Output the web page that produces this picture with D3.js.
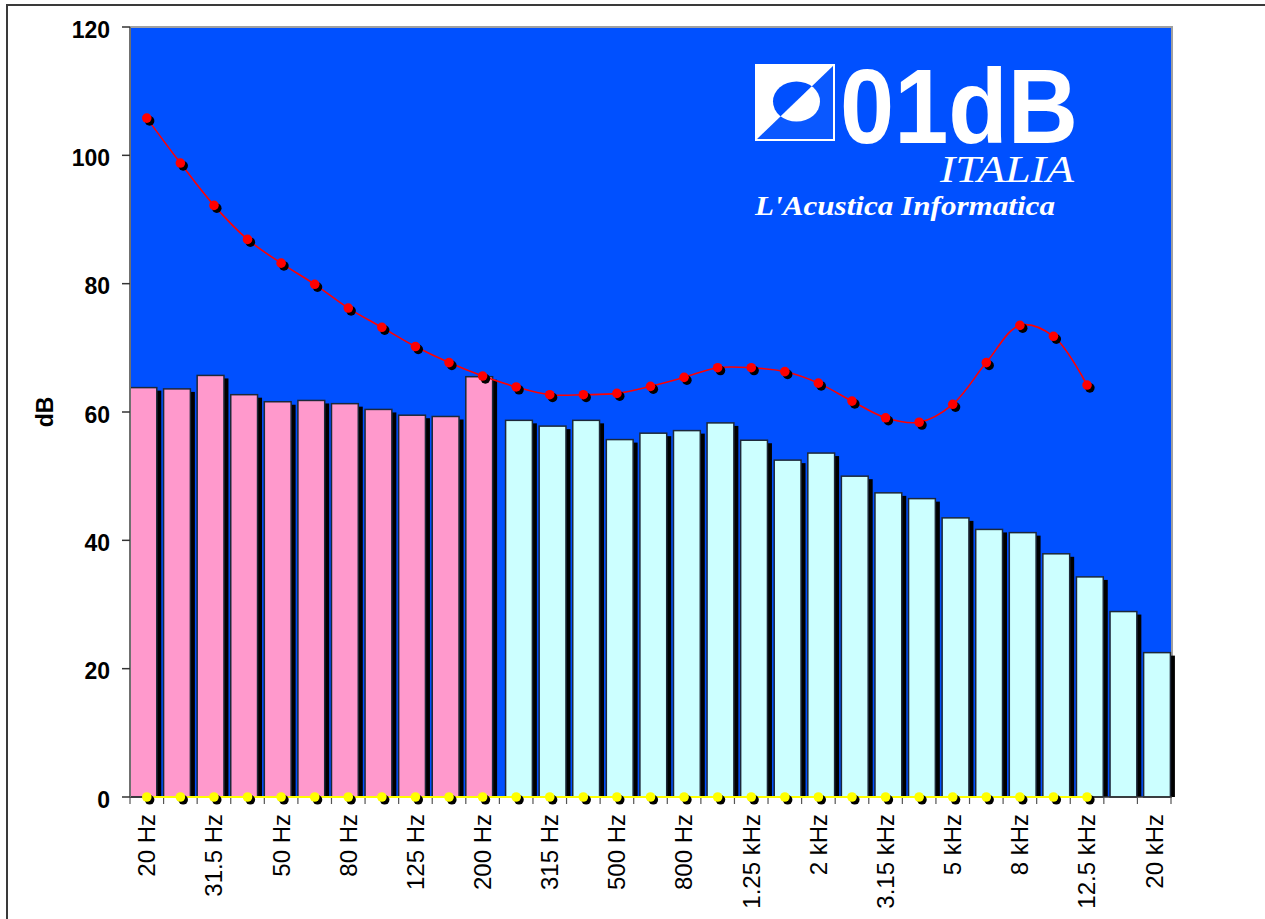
<!DOCTYPE html>
<html>
<head>
<meta charset="utf-8">
<script src="https://cdn.jsdelivr.net/npm/d3@7"></script>
<style>
  body { margin: 0; background: #fff; }
  svg { display: block; }
</style>
</head>
<body>
<script>
// third-octave bands
const bands = ["20 Hz","25 Hz","31.5 Hz","40 Hz","50 Hz","63 Hz","80 Hz","100 Hz","125 Hz","160 Hz",
  "200 Hz","250 Hz","315 Hz","400 Hz","500 Hz","630 Hz","800 Hz","1 kHz","1.25 kHz","1.6 kHz",
  "2 kHz","2.5 kHz","3.15 kHz","4 kHz","5 kHz","6.3 kHz","8 kHz","10 kHz","12.5 kHz","16 kHz","20 kHz"]

// pink series (low bands) and cyan series (the rest)
const lowLevels = [63.8, 63.6, 65.7, 62.7, 61.6, 61.8, 61.3, 60.4, 59.5, 59.3, 65.5]
const highLevels = [58.7, 57.8, 58.7, 55.7, 56.7, 57.1, 58.3, 55.6, 52.5, 53.6,
  50.0, 47.4, 46.5, 43.5, 41.7, 41.2, 37.9, 34.3, 28.9, 22.5]

// red curve (20 Hz .. 12.5 kHz)
const curveLevels = [105.8, 98.8, 92.2, 86.9, 83.2, 79.9, 76.2, 73.2, 70.2, 67.7,
  65.6, 63.9, 62.7, 62.7, 62.9, 64.0, 65.4, 66.9, 66.9, 66.3,
  64.5, 61.7, 59.1, 58.4, 61.2, 67.7, 73.5, 71.8, 64.2]
// yellow series, all zero
const zeroLevels = [0,0,0,0,0,0,0,0,0,0,0,0,0,0,0,0,0,0,0,0,0,0,0,0,0,0,0,0,0]

const yTicks = [0, 20, 40, 60, 80, 100, 120]

const W = 1265, H = 919
const plotL = 130, plotR = 1172, plotT = 27, plotB = 797

let svg = d3.select("body").append("svg")
    .attr("width", W)
    .attr("height", H)
    .style("font-family", "'Liberation Sans', Arial, sans-serif")

// outer frame
svg.append("rect")
    .attr("x", 7).attr("y", 5)
    .attr("width", 1400).attr("height", 1100)
    .attr("fill", "#fff")
    .attr("stroke", "#3a3a3a")
    .attr("stroke-width", 2)

let x = d3.scaleBand()
    .domain(bands)
    .range([plotL, plotR - 1])

let y = d3.scaleLinear()
    .domain([0, 120])
    .range([plotB, plotT])

// plot background
svg.append("rect")
    .attr("x", plotL).attr("y", plotT)
    .attr("width", plotR - plotL).attr("height", plotB - plotT)
    .attr("fill", "#0050ff")
svg.append("path")
    .attr("d", `M${plotL},${plotT}H${plotR}V${plotB}`)
    .attr("fill", "none")
    .attr("stroke", "#a0a0a0")
    .attr("stroke-width", 2)

// logo
let logo = svg.append("g")
let defs = svg.append("defs")
defs.append("clipPath").attr("id", "ul")
    .append("polygon").attr("points", "756,65 834,65 756,140")
defs.append("clipPath").attr("id", "lr")
    .append("polygon").attr("points", "834,65 834,140 756,140")
logo.append("rect")
    .attr("x", 756).attr("y", 65).attr("width", 78).attr("height", 75)
    .attr("fill", "#0a58ff").attr("stroke", "#fff").attr("stroke-width", 2)
logo.append("polygon")
    .attr("points", "756,65 834,65 756,140")
    .attr("fill", "#fff")
logo.append("ellipse")
    .attr("cx", 796.5).attr("cy", 101.5).attr("rx", 23.5).attr("ry", 20)
    .attr("fill", "#0050ff").attr("clip-path", "url(#ul)")
logo.append("ellipse")
    .attr("cx", 796.5).attr("cy", 101.5).attr("rx", 23.5).attr("ry", 20)
    .attr("fill", "#fff").attr("clip-path", "url(#lr)")
logo.append("text")
    .attr("x", 840).attr("y", 143)
    .attr("font-size", 106).attr("font-weight", "bold")
    .attr("textLength", 238).attr("lengthAdjust", "spacingAndGlyphs")
    .attr("fill", "#fff")
    .text("01dB")
logo.append("text")
    .attr("x", 940).attr("y", 182)
    .attr("font-family", "'Liberation Serif', 'Times New Roman', serif")
    .attr("font-style", "italic").attr("font-size", 37)
    .attr("textLength", 134).attr("lengthAdjust", "spacingAndGlyphs")
    .attr("fill", "#fff")
    .text("ITALIA")
logo.append("text")
    .attr("x", 755).attr("y", 215)
    .attr("font-family", "'Liberation Serif', 'Times New Roman', serif")
    .attr("font-style", "italic").attr("font-weight", "bold").attr("font-size", 28)
    .attr("textLength", 300).attr("lengthAdjust", "spacingAndGlyphs")
    .attr("fill", "#fff")
    .text("L'Acustica Informatica")

// bars: two clustered series, cyan one sits a bit to the right in its band
let barW = 26.8
let bars = lowLevels.map((v, i) => ({ cat: bands[i], v: v, fill: "#ff99cc", off: 0 }))
    .concat(highLevels.map((v, i) => ({ cat: bands[i + lowLevels.length], v: v, fill: "#ccffff", off: 6.2 })))

let barG = svg.append("g")
barG.selectAll("rect.shadow")
    .data(bars)
    .enter()
    .append("rect")
    .attr("class", "shadow")
    .attr("x", d => x(d.cat) + d.off + 4.5)
    .attr("y", d => y(d.v) + 3)
    .attr("width", barW)
    .attr("height", d => plotB - y(d.v) - 3)
    .attr("fill", "#000")
barG.selectAll("rect.bar")
    .data(bars)
    .enter()
    .append("rect")
    .attr("class", "bar")
    .attr("x", d => x(d.cat) + d.off)
    .attr("y", d => y(d.v))
    .attr("width", barW)
    .attr("height", d => plotB - y(d.v))
    .attr("fill", d => d.fill)
    .attr("stroke", "#1c2838")
    .attr("stroke-width", 1.5)

// axes
svg.append("line")
    .attr("x1", plotL).attr("x2", plotR)
    .attr("y1", plotB).attr("y2", plotB)
    .attr("stroke", "#333").attr("stroke-width", 1.5)
svg.append("line")
    .attr("x1", plotL).attr("x2", plotL)
    .attr("y1", plotT).attr("y2", plotB)
    .attr("stroke", "#707070").attr("stroke-width", 2)

let yAxis = svg.append("g")
yAxis.selectAll("line")
    .data(yTicks)
    .enter()
    .append("line")
    .attr("x1", 122).attr("x2", plotL)
    .attr("y1", d => y(d)).attr("y2", d => y(d))
    .attr("stroke", "#333").attr("stroke-width", 1.5)
yAxis.selectAll("text")
    .data(yTicks)
    .enter()
    .append("text")
    .attr("x", 110)
    .attr("y", d => y(d) + 2.5)
    .attr("dy", "0.35em")
    .attr("text-anchor", "end")
    .attr("font-size", 23).attr("font-weight", "bold")
    .text(d => d)

svg.append("text")
    .attr("transform", "translate(45,412) rotate(-90)")
    .attr("dy", "0.35em")
    .attr("text-anchor", "middle")
    .attr("font-size", 23).attr("font-weight", "bold")
    .text("dB")

let xAxis = svg.append("g")
xAxis.selectAll("line")
    .data(bands.map(b => x(b)).concat([plotR - 1]))
    .enter()
    .append("line")
    .attr("x1", d => d).attr("x2", d => d)
    .attr("y1", plotB).attr("y2", plotB + 7)
    .attr("stroke", "#555").attr("stroke-width", 1.2)
xAxis.selectAll("text")
    .data(bands.filter((b, i) => i % 2 === 0))
    .enter()
    .append("text")
    .attr("transform", d => `translate(${x(d) + x.bandwidth() / 2},814) rotate(-90)`)
    .attr("dy", "0.35em")
    .attr("text-anchor", "end")
    .attr("font-size", 24)
    .text(d => d)

// lines with shadowed markers
let cx = (d, i) => x(bands[i]) + x.bandwidth() / 2

function drawSeries(values, color, curve, width) {
    let g = svg.append("g")
    g.append("path")
        .datum(values)
        .attr("d", d3.line().x(cx).y(d => y(d)).curve(curve))
        .attr("fill", "none")
        .attr("stroke", color)
        .attr("stroke-width", width)
    g.selectAll("circle.sh")
        .data(values)
        .enter()
        .append("circle")
        .attr("class", "sh")
        .attr("cx", (d, i) => cx(d, i) + 2.8)
        .attr("cy", d => y(d) + 2.8)
        .attr("r", 4.8)
        .attr("fill", "#000")
    g.selectAll("circle.pt")
        .data(values)
        .enter()
        .append("circle")
        .attr("class", "pt")
        .attr("cx", cx)
        .attr("cy", d => y(d))
        .attr("r", 4.8)
        .attr("fill", color)
}

drawSeries(zeroLevels, "#ffff00", d3.curveLinear, 2)
drawSeries(curveLevels, "#ff0000", d3.curveCatmullRom, 1.6)
</script>
</body>
</html>
